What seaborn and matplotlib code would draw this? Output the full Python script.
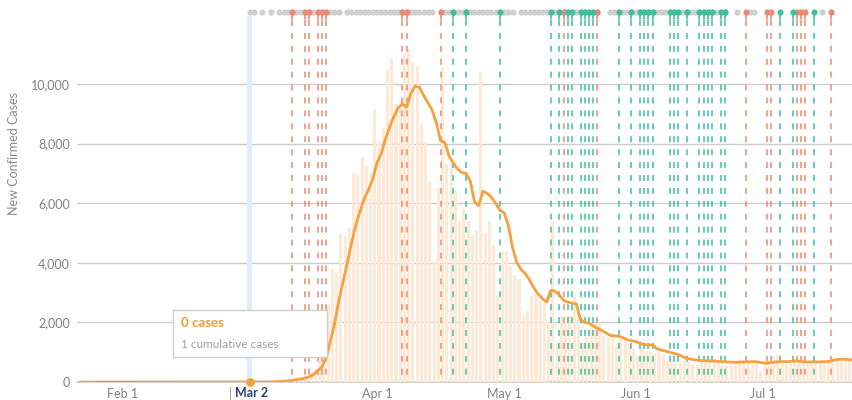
import pandas as pd
import matplotlib
matplotlib.use("Agg")
import matplotlib.pyplot as plt
import matplotlib.dates as mdates
from matplotlib.patches import Rectangle
import seaborn as sns

first_day = "2020-01-22"
last_day = "2020-07-22"
hover_day = "2020-03-02"

# daily new confirmed cases, Jan 22 .. Jul 22
new_cases = [
    0, 0, 0, 0, 0, 0, 0, 0, 0, 0, 0, 0, 0, 0, 0, 0, 0, 0, 0, 0,
    0, 0, 0, 0, 0, 0, 0, 0, 0, 0, 0, 0, 0, 0, 0, 0, 0, 0, 0, 1,
    0, 0, 1, 2, 5, 10, 15, 20, 30, 45,
    60, 90, 130, 200, 300, 450, 900, 1600, 2600, 3790,
    3700, 5000, 4900, 5180, 7030, 6980, 7540, 7260, 7030, 9160,
    8100, 8540, 10470, 10860, 9330, 9400, 11000, 11180, 10730, 10580,
    8680, 8040, 6700, 4060, 6500, 10540, 7310, 7310, 6400, 5390,
    5800, 5390, 4940, 5100, 10400, 5000, 5390, 4610, 2890, 4390,
    4390, 3900, 3600, 3440, 2220, 2390, 2890, 3060, 2720, 2610,
    2000, 5400, 1330, 2200, 2000, 2220, 2900, 2400, 1330, 1500,
    2000, 1950, 2000, 1550, 1490, 1600, 1210, 1550, 1380, 1270,
    1100, 880, 1100, 1050, 990, 930, 990, 930, 710, 770,
    650, 700, 760, 680, 600, 560, 700, 740, 720, 770,
    640, 560, 540, 600, 700, 770, 700, 650, 600, 680,
    370, 650, 720, 880, 930, 600, 620, 700, 760, 650,
    640, 690, 600, 620, 680, 720, 660, 700, 780, 800,
    770, 760, 700,
]

# 7-day average, Jan 22 .. Jul 22
avg_cases = [
    0, 0, 0, 0, 0, 0, 0, 0, 0, 0, 0, 0, 0, 0, 0, 0, 0, 0, 0, 0,
    0, 0, 0, 0, 0, 0, 0, 0, 0, 0, 0, 0, 0, 0, 0, 0, 0, 0, 0, 0,
    0, 0, 0, 1, 2, 5, 10, 15, 25, 40,
    60, 80, 100, 130, 170, 250, 370, 500, 800, 1350,
    1950, 2700, 3350, 3980, 4650, 5250, 5720, 6150, 6450, 6800,
    7350, 7650, 8150, 8550, 8900, 9200, 9330, 9220, 9680, 9920,
    9900, 9620, 9380, 9130, 8700, 8100, 8040, 7580, 7350, 7150,
    7030, 7000, 6750, 6050, 5920, 6400, 6330, 6200, 6000, 5760,
    5680, 5250, 4500, 4000, 3780, 3630, 3420, 3160, 2960, 2800,
    2680, 3080, 3050, 2920, 2740, 2680, 2650, 2620, 2100, 2000,
    1980, 1880, 1800, 1730, 1650, 1560, 1550, 1540, 1490, 1420,
    1390, 1360, 1300, 1250, 1245, 1240, 1120, 1070, 1040, 1000,
    960, 925, 850, 800, 765, 745, 730, 720, 712, 705,
    698, 688, 680, 668, 660, 665, 672, 675, 680, 685,
    670, 640, 630, 655, 675, 680, 685, 685, 700, 705,
    690, 675, 675, 675, 675, 680, 685, 700, 740, 760,
    765, 755, 740,
]

red_events = [
    "2020-03-12", "2020-03-15", "2020-03-16", "2020-03-18", "2020-03-19",
    "2020-03-20", "2020-04-07", "2020-04-08", "2020-04-16", "2020-05-15",
    "2020-05-23", "2020-06-27", "2020-07-02", "2020-07-03", "2020-07-09",
    "2020-07-10", "2020-07-11", "2020-07-17",
]
teal_events = [
    "2020-04-19", "2020-04-22", "2020-04-30", "2020-05-12", "2020-05-14",
    "2020-05-16", "2020-05-17", "2020-05-19", "2020-05-20", "2020-05-21",
    "2020-05-22", "2020-05-28", "2020-05-31", "2020-06-02", "2020-06-03",
    "2020-06-04", "2020-06-05", "2020-06-09", "2020-06-10", "2020-06-11",
    "2020-06-13", "2020-06-16", "2020-06-17", "2020-06-18", "2020-06-19",
    "2020-06-21", "2020-06-22", "2020-07-05", "2020-07-08", "2020-07-13",
]
# days with a grey marker in the top strip (start, end)
grey_spans = [
    ("2020-03-02", "2020-03-03"), ("2020-03-05", "2020-03-05"),
    ("2020-03-07", "2020-03-07"), ("2020-03-09", "2020-03-23"),
    ("2020-03-25", "2020-04-14"), ("2020-04-16", "2020-05-03"),
    ("2020-05-05", "2020-05-23"), ("2020-05-26", "2020-06-22"),
    ("2020-06-25", "2020-06-25"), ("2020-06-28", "2020-06-29"),
    ("2020-07-15", "2020-07-15"),
]

tick_dates = ["2020-02-01", "2020-04-01", "2020-05-01", "2020-06-01", "2020-07-01"]
tick_labels = ["Feb 1", "Apr 1", "May 1", "Jun 1", "Jul 1"]
y_ticks = [0, 2000, 4000, 6000, 8000, 10000]

ORANGE = "#f4a13f"
BAR = "#fde9d5"
RED = "#ea8a72"
TEAL = "#3fbf9e"
GREY_DOT = "#cfcfcf"
TXT = "#808080"

sns.set_theme(style="white")
plt.rcParams["font.family"] = ["Lato", "DejaVu Sans"]
plt.rcParams["lines.scale_dashes"] = False

dates = pd.date_range(first_day, last_day, freq="D")
df = pd.DataFrame({"date": dates, "cases": new_cases, "avg": avg_cases})
hover = pd.Timestamp(hover_day)

fig = plt.figure(figsize=(8.52, 4.0), dpi=100)
ax = fig.add_axes([77 / 852, 18 / 400, 775 / 852, 374 / 400])

# blue hover band
ax.axvspan(hover - pd.Timedelta(hours=13), hover + pd.Timedelta(hours=13),
           ymin=0, ymax=0.979, color="#e0ecfa", lw=0, zorder=1.5)

ax.bar(df["date"] + pd.Timedelta(hours=12), df["cases"], width=0.72,
       color=BAR, linewidth=0, zorder=2)

xt = ax.get_xaxis_transform()
dot_y = 0.9893
stem_y = 0.9706
for color, evs in [(RED, red_events), (TEAL, teal_events)]:
    for d in pd.to_datetime(evs):
        ax.plot([d, d], [0.968, 0], transform=xt, color=color, lw=1.1,
                linestyle=(0, (4.3, 5.0)), zorder=3)

grey_days = pd.DatetimeIndex([])
for a, b in grey_spans:
    grey_days = grey_days.append(pd.date_range(a, b, freq="D"))
ax.scatter(grey_days, [dot_y] * len(grey_days), transform=xt, s=20,
           color=GREY_DOT, linewidths=0, clip_on=False, zorder=5)
for color, evs in [(RED, red_events), (TEAL, teal_events)]:
    ev = pd.to_datetime(evs)
    for d in ev:
        ax.plot([d, d], [dot_y, stem_y], transform=xt, color=color, lw=1.2,
                clip_on=False, zorder=6)
    ax.scatter(ev, [dot_y] * len(ev), transform=xt, s=20, color=color,
               linewidths=0, clip_on=False, zorder=6)

sns.lineplot(data=df, x="date", y="avg", ax=ax, color=ORANGE, linewidth=2.0,
             zorder=4)
ax.scatter([hover], [0], s=28, color=ORANGE, zorder=7, clip_on=False)

ax.set_xlim(hover - pd.Timedelta(days=40.7), hover + pd.Timedelta(days=142.0))
ax.set_ylim(0, 12550)
ax.set_yticks(y_ticks)
ax.set_yticklabels([f"{v:,}" for v in y_ticks])
ax.set_xticks(pd.to_datetime(tick_dates))
ax.set_xticklabels(tick_labels)
ax.tick_params(axis="both", length=0, labelsize=9, labelcolor=TXT)
ax.tick_params(axis="y", pad=5)
ax.tick_params(axis="x", pad=4)
ax.grid(axis="y", color="#cccccc", linewidth=1.0)
ax.grid(axis="x", visible=False)
ax.set_axisbelow(True)
ax.axhline(0, color="#cccccc", lw=1.2, zorder=1, clip_on=False)
ax.set_xlabel("")
ax.set_ylabel("")
for s in ax.spines.values():
    s.set_visible(False)

# hovered date label
hx = mdates.date2num(hover)
ax.annotate("|", xy=(hx, 0), xycoords=xt, xytext=(-19, -11),
            textcoords="offset pixels", ha="center", va="center",
            fontsize=9, color="#999999")
ax.annotate("Mar 2", xy=(hx, 0), xycoords=xt, xytext=(-15, -11),
            textcoords="offset pixels", ha="left", va="center",
            fontsize=9, color="#24416f", fontweight="bold")

fig.text(14 / 852, 1 - 153 / 400, "New Confirmed Cases", rotation=90,
         ha="center", va="center", fontsize=9, color="#888888")

# tooltip
box = Rectangle((173 / 852, 1 - 357 / 400), 154 / 852, 47 / 400,
                transform=fig.transFigure, facecolor="white",
                edgecolor="#cfcfcf", linewidth=1.0, zorder=8)
fig.add_artist(box)
fig.text(181 / 852, 1 - 323 / 400, "0 cases", ha="left", va="center",
         fontsize=9.5, fontweight="bold", color="#f39a2e", zorder=9)
fig.text(181 / 852, 1 - 345 / 400, "1 cumulative cases", ha="left",
         va="center", fontsize=8.5, color="#a0a0a0", zorder=9)

fig.savefig("out.png", dpi=100)
